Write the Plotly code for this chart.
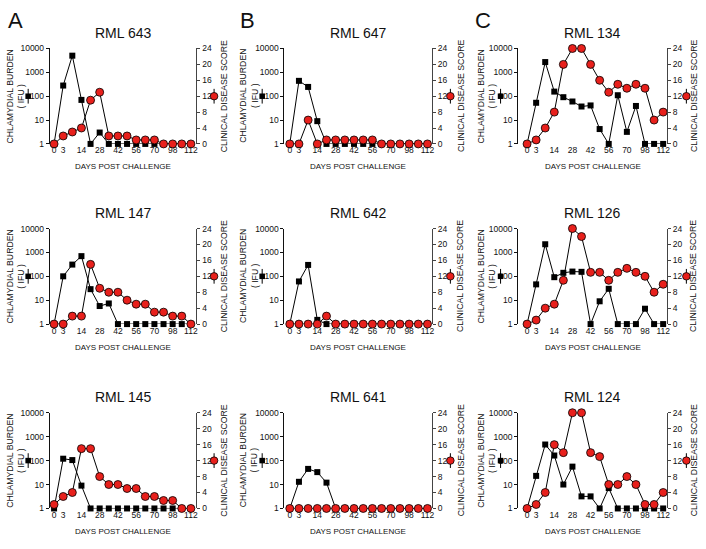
import plotly.graph_objects as go

# ---------------- data ----------------
days = [0, 3, 7, 14, 21, 28, 35, 42, 49, 56, 63, 70, 84, 98, 105, 112]
tick_days = [0, 3, 14, 28, 42, 56, 70, 98, 112]
burden_ticks = [1, 10, 100, 1000, 10000]
score_ticks = [0, 4, 8, 12, 16, 20, 24]

animals = ["RML 643", "RML 647", "RML 134",
           "RML 147", "RML 642", "RML 126",
           "RML 145", "RML 641", "RML 124"]
panel_letters = ["A", "B", "C"]

burden_643 = [1, 280, 5000, 70, 1, 3, 1, 1, 1, 1, 1, 1, 1, 1, 1, 1]
score_643 = [0, 2, 3, 4, 11, 13, 2, 2, 2, 1, 1, 1, 0, 0, 0, 0]
burden_647 = [1, 440, 245, 9, 1, 1, 1, 1, 1, 1, 1, 1, 1, 1, 1, 1]
score_647 = [0, 0, 6, 0, 1, 1, 1, 1, 1, 1, 0, 0, 0, 0, 0, 0]
burden_134 = [1, 53, 2700, 156, 91, 60, 37, 41, 4.2, 1, 110, 3.2, 39, 1, 1, 1]
score_134 = [0, 1, 4, 8, 20, 24, 24, 20, 16, 13, 15, 14, 15, 14, 6, 8]
burden_147 = [1, 100, 310, 700, 29, 5.7, 7.3, 1, 1, 1, 1, 1, 1, 1, 1, 1]
score_147 = [0, 0, 2, 2, 15, 9, 8, 8, 6, 5, 5, 3, 3, 2, 2, 0]
burden_642 = [1, 61, 300, 1.5, 1, 1, 1, 1, 1, 1, 1, 1, 1, 1, 1, 1]
score_642 = [0, 0, 0, 0, 2, 0, 0, 0, 0, 0, 0, 0, 0, 0, 0, 0]
burden_126 = [1, 46, 2200, 92, 140, 158, 154, 1, 9, 30, 1, 1, 1, 4.4, 1, 1]
score_126 = [0, 1, 4, 5, 11, 24, 22, 13, 13, 11, 13, 14, 13, 12, 8, 10]
burden_145 = [1, 120, 105, 9, 1, 1, 1, 1, 1, 1, 1, 1, 1, 1, 1, 1]
score_145 = [1, 3, 4, 15, 15, 8, 6, 6, 5, 5, 3, 3, 2, 2, 0, 0]
burden_641 = [1, 13, 45, 33, 12, 1, 1, 1, 1, 1, 1, 1, 1, 1, 1, 1]
score_641 = [0, 0, 0, 0, 0, 0, 0, 0, 0, 0, 0, 0, 0, 0, 0, 0]
burden_124 = [1, 23, 470, 163, 10, 56, 3.2, 3.2, 1, 7.1, 1, 1, 1, 1, 1, 1]
score_124 = [0, 1, 4, 16, 14, 24, 24, 14, 13, 6, 6, 8, 6, 1, 1, 4]

burdens = [burden_643, burden_647, burden_134, burden_147, burden_642,
           burden_126, burden_145, burden_641, burden_124]
scores = [score_643, score_647, score_134, score_147, score_642,
          score_126, score_145, score_641, score_124]

# ---------------- layout geometry (pixels) ----------------
W, H = 706, 549
FONT = "Liberation Sans, Arial, sans-serif"
RED = "#e8201c"

col_px = [(50.0, 197.3), (285.7, 434.0), (520.3, 670.0)]
col_range = [(-0.47, 15.61), (-0.575, 15.51), (-0.99, 15.44)]
row_px = [(44.3, 141.5), (227.7, 325.0), (415.3, 512.8)]
left_sym_dx = [-21.7, -22.4, -17.6]
left_title_dx = [-34.7, -36.0, -32.0]
right_sym_dx = [17.7, 18.3, 19.3]
right_title_dx = [27.7, 28.7, 26.7]


def px(x):
    return x / W


def py(y):
    return 1 - y / H


fig = go.Figure()
layout = dict(
    width=W, height=H,
    margin=dict(l=0, r=0, t=0, b=0),
    paper_bgcolor="white", plot_bgcolor="rgba(0,0,0,0)",
    showlegend=False,
    font=dict(family=FONT, color="#111"),
)
annotations = []
shapes = []
cats = [str(d) for d in days]

for i in range(9):
    r, c = divmod(i, 3)
    x0, x1 = col_px[c]
    y0, y1 = row_px[r]
    xa = "x" if i == 0 else f"x{i + 1}"
    yl_n = 2 * i + 1
    yr_n = 2 * i + 2
    yl = "y" if yl_n == 1 else f"y{yl_n}"
    yr = f"y{yr_n}"

    layout["xaxis" if i == 0 else f"xaxis{i + 1}"] = dict(
        domain=[px(x0), px(x1)], anchor=yl, type="category",
        categoryorder="array", categoryarray=cats,
        range=list(col_range[c]),
        tickmode="array", tickvals=[str(d) for d in tick_days],
        ticktext=[str(d) for d in tick_days], tickangle=0,
        showline=False, ticks="", showgrid=False, zeroline=False,
        tickfont=dict(size=8.5, family=FONT, color="#111"),
    )
    layout["yaxis" if yl_n == 1 else f"yaxis{yl_n}"] = dict(
        domain=[py(y1), py(y0)], anchor=xa, type="log", range=[0, 4],
        side="left", showline=True, linecolor="#111", linewidth=1,
        ticks="outside", ticklen=3, tickcolor="#111",
        tickmode="array", tickvals=burden_ticks,
        ticktext=[str(t) for t in burden_ticks],
        showgrid=False, zeroline=False,
        tickfont=dict(size=8.5, family=FONT, color="#111"),
    )
    layout[f"yaxis{yr_n}"] = dict(
        overlaying=yl, anchor=xa, side="right", range=[0, 24],
        showline=True, linecolor="#444", linewidth=1,
        ticks="outside", ticklen=3, tickcolor="#444",
        tickmode="array", tickvals=score_ticks,
        ticktext=[str(t) for t in score_ticks],
        showgrid=False, zeroline=False,
        tickfont=dict(size=8.5, family=FONT, color="#111"),
    )

    fig.add_trace(go.Scatter(
        x=cats, y=burdens[i], xaxis=xa, yaxis=yl, mode="lines+markers",
        line=dict(color="black", width=1),
        marker=dict(symbol="square", size=6, color="black"),
        cliponaxis=False, hoverinfo="x+y",
    ))
    fig.add_trace(go.Scatter(
        x=cats, y=scores[i], xaxis=xa, yaxis=yr, mode="lines+markers",
        line=dict(color="black", width=1),
        marker=dict(symbol="circle", size=8, color=RED,
                    line=dict(color="black", width=0.8)),
        cliponaxis=False, hoverinfo="x+y",
    ))

    cx = (x0 + x1) / 2
    cy = (y0 + y1) / 2
    annotations.append(dict(
        text=animals[i], x=px(cx), y=py(y0 - 16), xref="paper", yref="paper",
        showarrow=False, xanchor="center", yanchor="middle",
        font=dict(size=14, family=FONT, color="#111"),
    ))
    annotations.append(dict(
        text="DAYS POST CHALLENGE", x=px(cx), y=py(y1 + 23.5),
        xref="paper", yref="paper", showarrow=False,
        xanchor="center", yanchor="middle",
        font=dict(size=8, family=FONT, color="#111"),
    ))
    annotations.append(dict(
        text="CHLAMYDIAL BURDEN<br>( IFU )", x=px(x0 + left_title_dx[c]),
        y=py(cy), xref="paper", yref="paper", showarrow=False,
        xanchor="center", yanchor="middle", textangle=-90,
        font=dict(size=8.7, family=FONT, color="#111"),
    ))
    annotations.append(dict(
        text="CLINICAL DISEASE SCORE", x=px(x1 + right_title_dx[c]),
        y=py(cy), xref="paper", yref="paper", showarrow=False,
        xanchor="center", yanchor="middle", textangle=-90,
        font=dict(size=8.7, family=FONT, color="#111"),
    ))
    sx = x0 + left_sym_dx[c]
    shapes.append(dict(type="line", xref="paper", yref="paper",
                       x0=px(sx), x1=px(sx), y0=py(cy - 7.5), y1=py(cy + 7.5),
                       line=dict(color="black", width=1)))
    shapes.append(dict(type="rect", xref="paper", yref="paper",
                       x0=px(sx - 2.8), x1=px(sx + 2.8),
                       y0=py(cy - 2.8), y1=py(cy + 2.8),
                       fillcolor="black", line=dict(color="black", width=0)))
    rx = x1 + right_sym_dx[c]
    shapes.append(dict(type="line", xref="paper", yref="paper",
                       x0=px(rx), x1=px(rx), y0=py(cy - 7.5), y1=py(cy + 7.5),
                       line=dict(color="black", width=1)))
    shapes.append(dict(type="circle", xref="paper", yref="paper",
                       x0=px(rx - 3.8), x1=px(rx + 3.8),
                       y0=py(cy - 3.8), y1=py(cy + 3.8),
                       fillcolor=RED, line=dict(color="black", width=0.8)))

letter_px = [(15.5, 15.5), (248.5, 15.5), (485.0, 15.5)]
for letter, (lx, ly) in zip(panel_letters, letter_px):
    annotations.append(dict(
        text=letter, x=px(lx), y=py(ly), xref="paper", yref="paper",
        showarrow=False, xanchor="center", yanchor="middle",
        font=dict(size=22, family=FONT, color="#111"),
    ))

layout["annotations"] = annotations
layout["shapes"] = shapes
fig.update_layout(**layout)
fig.write_html(
    "out.html",
    config={"displayModeBar": False},
    post_script="document.body.style.margin='0px';"
                "document.body.style.padding='0px';"
                "document.body.style.overflow='hidden';",
)
